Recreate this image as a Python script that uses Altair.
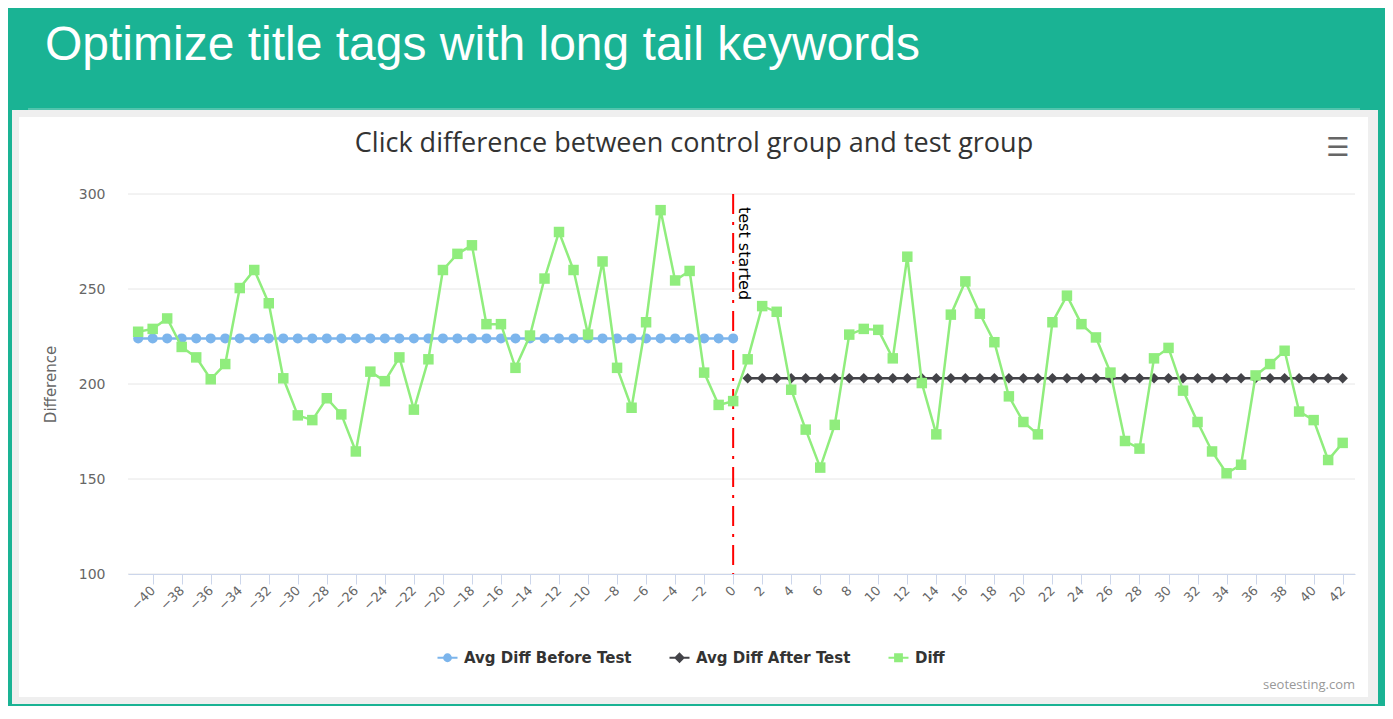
import altair as alt
import pandas as pd

# ---------------- data ----------------
days = list(range(-41, 43))
diff_values = [
    227.5, 229, 234.5, 219.5, 214, 202.5, 210.5, 250.5, 260, 242.5,
    203, 183.5, 181, 192.5, 184, 164.5, 206.5, 201.5, 214, 186.5,
    213, 260, 268.5, 273, 231.5, 231.5, 208.5, 225.5, 255.5, 280,
    260, 226, 264.5, 208.5, 187.5, 232.5, 291.5, 254.5, 259.5, 206,
    189, 191,
    213, 241, 238, 197, 176, 156, 178.5, 226, 229, 228.5,
    213.5, 267, 200.5, 173.5, 236.5, 254, 237, 222, 193.5, 180,
    173.5, 232.5, 246.5, 231.5, 224.5, 206, 170, 166, 213.5, 219,
    196.5, 180, 164.5, 153, 157.5, 204.5, 210.5, 217.5, 185.5, 181,
    160, 169,
]
before_days = list(range(-41, 1))
after_days = list(range(1, 43))
avg_before = 224
avg_after = 203
series_names = ["Avg Diff Before Test", "Avg Diff After Test", "Diff"]
series_colors = ["#7cb5ec", "#434348", "#90ed7d"]
x_tick_values = list(range(-40, 43, 2))
y_tick_values = [100, 150, 200, 250, 300]
test_start = [0]

header_title = "Optimize title tags with long tail keywords"
chart_title = "Click difference between control group and test group"
credit = "seotesting.com"
plotline_label = "test started"

# ---------------- tables ----------------
diff_df = pd.DataFrame({"day": days, "value": diff_values})
before_df = pd.DataFrame({"day": before_days, "value": [avg_before] * len(before_days)})
after_df = pd.DataFrame({"day": after_days, "value": [avg_after] * len(after_days)})
grid_df = pd.DataFrame({"value": y_tick_values})
start_df = pd.DataFrame({"day": test_start})
legend_df = pd.DataFrame({"series": series_names,
                          "day": [None] * 3, "value": [None] * 3})
one = pd.DataFrame({"k": [0]})

W, H = 1227, 380
FONT = "Open Sans"
AXFONT = "DejaVu Sans"

x_axis = alt.Axis(values=x_tick_values, title=None, labelAngle=-45, labelAlign="right",
                  labelBaseline="middle", labelFont=AXFONT, labelFontSize=13,
                  labelColor="#666666", labelPadding=4, tickSize=10, tickColor="#ccd6eb",
                  domainColor="#ccd6eb", domainWidth=1, grid=False, zindex=1,
                  labelOverlap=False, labelFlush=False)
y_axis = alt.Axis(values=y_tick_values, title="Difference", grid=False, domain=False,
                  ticks=False, tickSize=0, labelPadding=23, labelFont=AXFONT, labelFontSize=14,
                  labelColor="#666666", titleFont=AXFONT, titleFontSize=15,
                  titleFontWeight="normal", titleColor="#666666", titleX=-78, titleY=190,
                  titleAlign="center", titleBaseline="middle", titleAngle=270, zindex=1)
x_scale = alt.Scale(domain=[-41.7, 42.85], nice=False, zero=False)
y_scale = alt.Scale(domain=[100, 300], nice=False, zero=False)
x_enc = alt.X("day:Q", scale=x_scale, axis=x_axis)
y_enc = alt.Y("value:Q", scale=y_scale, axis=y_axis)

# ---------------- decoration ----------------
def panel(color, x0, x1, y0, y1):
    return alt.Chart(one).mark_rect(color=color).encode(
        x=alt.value(x0), x2=alt.value(x1), y=alt.value(y0), y2=alt.value(y1))

teal = panel("#1ab394", -120, 1257, -186, 512)
thin = panel("#52c4ad", -100, 1232, -86, -84)
border = panel("#efefef", -116, 1250, -84, 510)
white = panel("#ffffff", -109, 1240, -77, 503)

header = alt.Chart(one).mark_text(text=header_title, font="Liberation Sans", fontSize=48,
                                  color="#ffffff", align="left", baseline="alphabetic").encode(
    x=alt.value(-83), y=alt.value(-134))
title = alt.Chart(one).mark_text(text=chart_title, font=FONT, fontSize=27, color="#333333",
                                 align="center", baseline="alphabetic").encode(
    x=alt.value(566), y=alt.value(-42))
menu = alt.Chart(one).mark_text(text="\u2630", font="DejaVu Sans", fontSize=26,
                                color="#666666", align="center", baseline="middle").encode(
    x=alt.value(1210), y=alt.value(-46))
credit_txt = alt.Chart(one).mark_text(text=credit, font=FONT, fontSize=13, color="#999999",
                                      align="right", baseline="alphabetic").encode(
    x=alt.value(1227), y=alt.value(495))

grid = alt.Chart(grid_df).mark_rule(color="#e6e6e6", strokeWidth=1).encode(y=y_enc)

red = alt.Chart(start_df).mark_rule(color="#ff0000", strokeWidth=2,
                                    strokeDash=[20, 8, 3, 8]).encode(x=x_enc)
red_label = alt.Chart(start_df).mark_text(text=plotline_label, font="DejaVu Sans", fontSize=16,
                                          color="#000000", angle=90, align="left",
                                          baseline="alphabetic", xOffset=6).encode(
    x=x_enc, y=alt.value(13))

# ---------------- series ----------------
before_line = alt.Chart(before_df).mark_line(color=series_colors[0], strokeWidth=2.5).encode(x=x_enc, y=y_enc)
before_pts = alt.Chart(before_df).mark_point(shape="circle", filled=True, size=100, opacity=1,
                                             color=series_colors[0]).encode(x=x_enc, y=y_enc)
after_line = alt.Chart(after_df).mark_line(color=series_colors[1], strokeWidth=2.5).encode(x=x_enc, y=y_enc)
after_pts = alt.Chart(after_df).mark_point(shape="diamond", filled=True, size=110, opacity=1,
                                           color=series_colors[1]).encode(x=x_enc, y=y_enc)
diff_line = alt.Chart(diff_df).mark_line(color=series_colors[2], strokeWidth=2.5).encode(x=x_enc, y=y_enc)
diff_pts = alt.Chart(diff_df).mark_point(shape="square", filled=True, size=110, opacity=1,
                                         color=series_colors[2]).encode(x=x_enc, y=y_enc)

# ---------------- legend ----------------
sym_paths = [
    "M-2.5,0L2.5,0M-0.85,0A0.85,0.85,0,1,0,0.85,0A0.85,0.85,0,1,0,-0.85,0Z",
    "M-2.5,0L2.5,0M0,-1L1,0L0,1L-1,0Z",
    "M-2.5,0L2.5,0M-0.85,-0.85L0.85,-0.85L0.85,0.85L-0.85,0.85Z",
]
leg = alt.Legend(title=None, orient="none", legendX=312, legendY=456, direction="horizontal",
                 labelFont="DejaVu Sans", labelFontSize=15, labelFontWeight="bold",
                 labelColor="#333333", labelLimit=400, symbolSize=64, symbolStrokeWidth=2,
                 labelOffset=9, columnPadding=33, zindex=1, symbolOpacity=1)
color_scale = alt.Scale(domain=series_names, range=series_colors)
legend_layer = alt.Chart(legend_df).mark_point(filled=True, size=64, strokeWidth=2, opacity=1).encode(
    x=x_enc, y=y_enc,
    shape=alt.Shape("series:N", scale=alt.Scale(domain=series_names, range=sym_paths), legend=leg),
    fill=alt.Fill("series:N", scale=color_scale, legend=leg),
    stroke=alt.Stroke("series:N", scale=color_scale, legend=leg),
)

chart = alt.layer(
    teal, thin, border, white, header, title, menu, credit_txt,
    grid, red, before_line, before_pts, after_line, after_pts, diff_line, diff_pts,
    red_label, legend_layer,
).properties(width=W, height=H, padding=0, background="#1ab394").configure_view(stroke=None)

chart.save("out.html", embed_options={"renderer": "svg", "actions": False})
